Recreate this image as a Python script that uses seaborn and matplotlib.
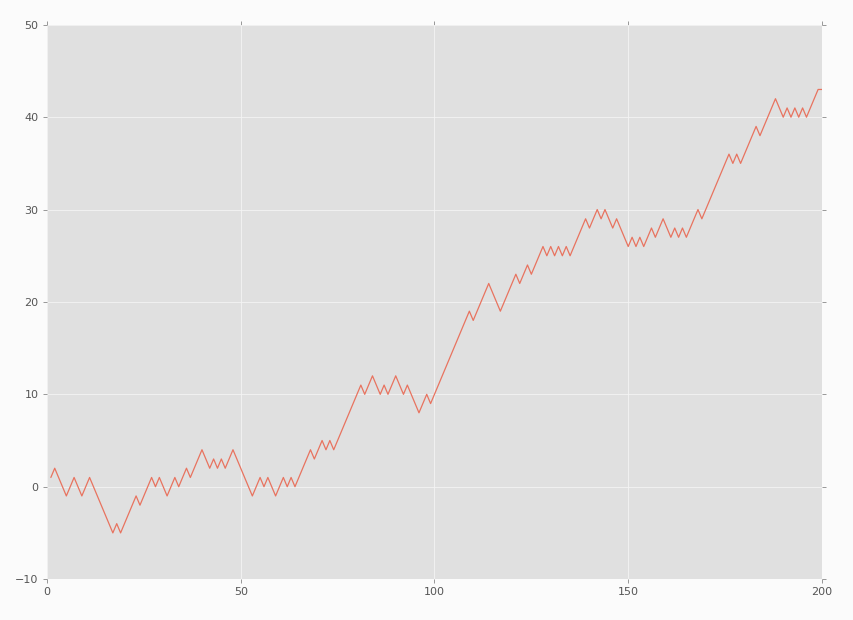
import numpy as np
import matplotlib
matplotlib.use("Agg")
import matplotlib.pyplot as plt
import seaborn as sns

# Random walk values, one per step (x = 1..200)
steps = list(range(1, 201))
walk = [
    1, 2, 1, 0, -1, 0, 1, 0, -1, 0,
    1, 0, -1, -2, -3, -4, -5, -4, -5, -4,
    -3, -2, -1, -2, -1, 0, 1, 0, 1, 0,
    -1, 0, 1, 0, 1, 2, 1, 2, 3, 4,
    3, 2, 3, 2, 3, 2, 3, 4, 3, 2,
    1, 0, -1, 0, 1, 0, 1, 0, -1, 0,
    1, 0, 1, 0, 1, 2, 3, 4, 3, 4,
    5, 4, 5, 4, 5, 6, 7, 8, 9, 10,
    11, 10, 11, 12, 11, 10, 11, 10, 11, 12,
    11, 10, 11, 10, 9, 8, 9, 10, 9, 10,
    11, 12, 13, 14, 15, 16, 17, 18, 19, 18,
    19, 20, 21, 22, 21, 20, 19, 20, 21, 22,
    23, 22, 23, 24, 23, 24, 25, 26, 25, 26,
    25, 26, 25, 26, 25, 26, 27, 28, 29, 28,
    29, 30, 29, 30, 29, 28, 29, 28, 27, 26,
    27, 26, 27, 26, 27, 28, 27, 28, 29, 28,
    27, 28, 27, 28, 27, 28, 29, 30, 29, 30,
    31, 32, 33, 34, 35, 36, 35, 36, 35, 36,
    37, 38, 39, 38, 39, 40, 41, 42, 41, 40,
    41, 40, 41, 40, 41, 40, 41, 42, 43, 43,
]
x_ticks = [0, 50, 100, 150, 200]
y_ticks = [-10, 0, 10, 20, 30, 40, 50]

sns.set_theme(style="darkgrid", rc={
    "axes.facecolor": "#e0e0e0",
    "figure.facecolor": "#fbfbfb",
    "grid.color": "#f4f4f4",
    "grid.linewidth": 0.6,
    "axes.edgecolor": "white",
})
plt.rcParams["font.family"] = ["DejaVu Sans"]

fig = plt.figure(figsize=(8.54, 6.2), dpi=100)
ax = fig.add_axes([0.055, 0.066, 0.9075, 0.894])

sns.lineplot(x=steps, y=walk, ax=ax, color="#e8735f", linewidth=0.9)

ax.set_xlim(0, 200)
ax.set_ylim(-10, 50)
ax.set_xticks(x_ticks)
ax.set_yticks(y_ticks)
ax.tick_params(axis="both", which="both", direction="out", length=3, width=0.6,
               color="#888888", labelsize=8, labelcolor="#555555",
               bottom=True, left=True, right=True, top=True, pad=3)
for s in ax.spines.values():
    s.set_visible(False)

fig.savefig("out.png", dpi=100)
